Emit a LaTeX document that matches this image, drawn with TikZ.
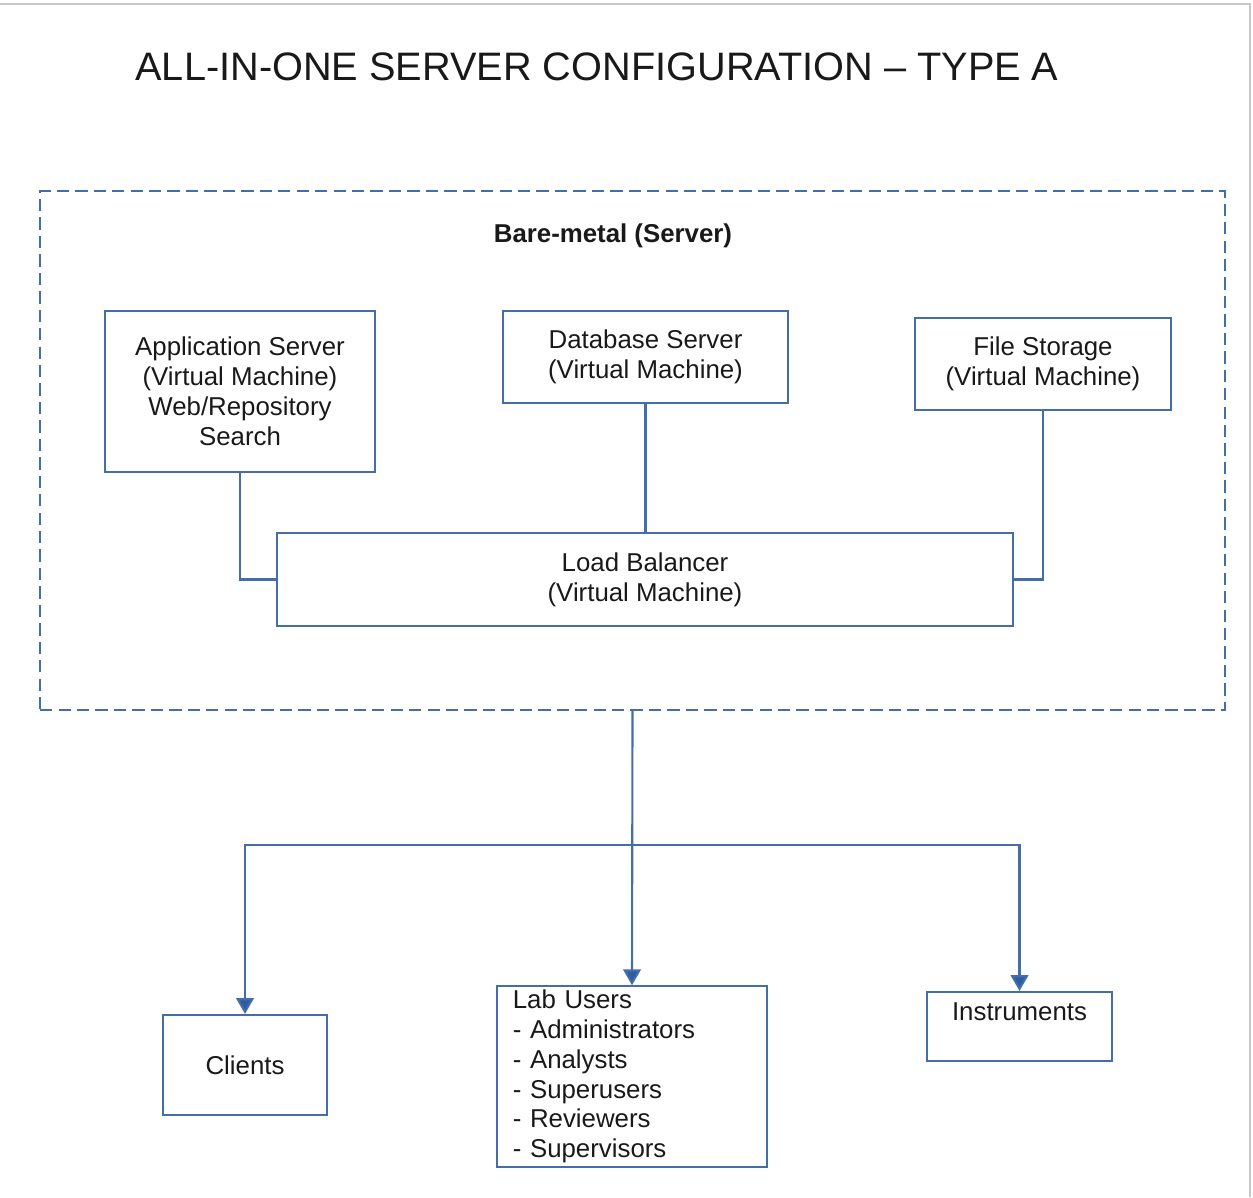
\documentclass[tikz,border=0pt]{standalone}
\usepackage{fontspec}
\setmainfont{Liberation Sans}
\usepackage{tikz}
\usetikzlibrary{arrows.meta,positioning}
\definecolor{lnblue}{RGB}{68,110,170}
\definecolor{tipblue}{RGB}{45,92,160}
\definecolor{txt}{RGB}{25,25,25}
\definecolor{frm}{RGB}{200,200,200}
\tikzstyle{vm}=[draw=lnblue, line width=1.2pt, align=center, inner sep=2pt, text=txt, font=\fontsize{14.7}{17}\selectfont]
\tikzstyle{bare}=[draw=lnblue, line width=1.2pt, dash pattern=on 7pt off 3.5pt]
\tikzstyle{ln}=[draw=lnblue, line width=1.2pt]

\begin{document}
\begin{tikzpicture}[x=0.02cm, y=-0.02cm, >={Triangle[width=10pt,length=9pt,fill=tipblue]}]
\useasboundingbox (0,0) rectangle (1253,1197);
%
  \draw[frm, line width=1pt] (0,4) -- (1250,4) -- (1250,1197);
  \node[text=txt, font=\fontsize{22.6}{26}\selectfont] (title) at (597,67) {ALL-IN-ONE SERVER CONFIGURATION -- TYPE A};
%
  \node[bare, minimum width=23.7cm, minimum height=10.38cm] (bm) at (632.5,450.5) {};
  \node[text=txt, font=\fontsize{14.7}{17}\selectfont\bfseries] (bmlbl) at (613,236) {Bare-metal (Server)};
%
  \node[vm, minimum width=5.4cm, minimum height=3.22cm] (app) at (240,391.5) {Application Server\\(Virtual Machine)\\Web/Repository\\Search};
  \node[vm, minimum width=5.7cm, minimum height=1.84cm] (db) at (645.5,357) {Database Server\\(Virtual Machine)};
  \node[vm, minimum width=5.12cm, minimum height=1.84cm] (fs) at (1043,364) {File Storage\\(Virtual Machine)};
  \node[vm, minimum width=14.72cm, minimum height=1.86cm] (lb) at (645,579.5) {Load Balancer\\(Virtual Machine)};
%
  \draw[ln] (app.south) |- (lb.west);
  \draw[ln] (db.south) -- (db.south |- lb.north);
  \draw[ln] (fs.south) |- (lb.east);
%
  \node[vm, minimum width=3.28cm, minimum height=2cm] (cl) at (245,1065) {Clients};
  \node[vm, align=left, inner xsep=9pt, text width=5.4cm-18pt, minimum height=3.58cm] (lab) at (632,1076.5) {Lab Users\\- Administrators\\- Analysts\\- Superusers\\- Reviewers\\- Supervisors};
  \node[vm, minimum width=3.7cm, minimum height=1.38cm] (ins) at (1019.5,1026.5) {Instruments\\\mbox{}};
%
  \coordinate (split) at (632,845);
  \draw[ln, ->] (bm.south) -- (lab.north);
  \draw[ln, ->] (split) -| (cl.north);
  \draw[ln, ->] (split) -| (ins.north);
\end{tikzpicture}
\end{document}
